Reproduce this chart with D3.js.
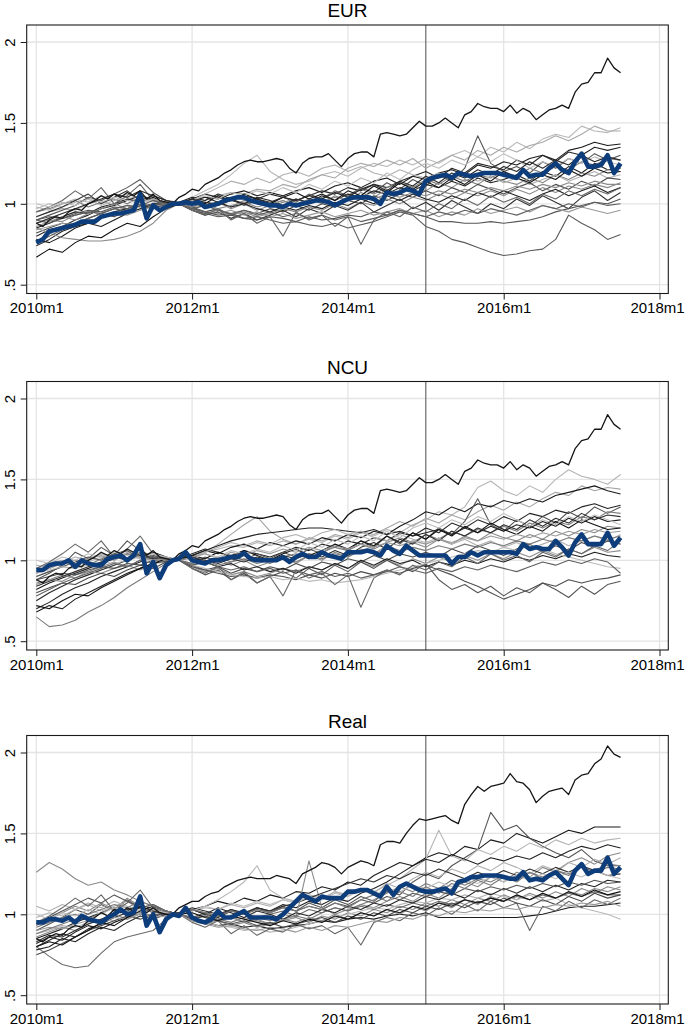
<!DOCTYPE html>
<html><head><meta charset="utf-8">
<script src="https://cdn.jsdelivr.net/npm/d3@7"></script>
<style>html,body{margin:0;padding:0;background:#fff;}svg{display:block;}</style>
</head><body>
<svg id="chart" width="685" height="1027"></svg>
<script>
// ---------------- DATA ----------------
const panelTitles = ["EUR", "NCU", "Real"];
const xTickMonths = [0, 24, 48, 72, 96];           // months since 2010m1
const xTickLabels = ["2010m1", "2012m1", "2014m1", "2016m1", "2018m1"];
const yTickValues = [0.5, 1, 1.5, 2];
const yTickLabels = [".5", "1", "1.5", "2"];
const eventMonth = 60;                              // 2015m1
// monthly series (2010m1 .. 2017m7); country series every second month

const eurTop = [0.88,0.86,0.90,0.92,0.91,0.95,0.97,0.96,1.00,1.02,
1.05,1.03,1.06,1.04,1.07,1.05,1.08,1.03,1.06,1.02,
1.01,1.00,1.04,1.06,1.09,1.08,1.12,1.14,1.16,1.19,
1.21,1.24,1.26,1.27,1.26,1.26,1.27,1.28,1.27,1.22,
1.19,1.25,1.28,1.29,1.29,1.31,1.27,1.23,1.28,1.31,
1.32,1.32,1.29,1.43,1.44,1.43,1.42,1.43,1.47,1.51,
1.48,1.48,1.50,1.53,1.50,1.47,1.55,1.57,1.62,1.60,
1.59,1.59,1.57,1.61,1.56,1.59,1.57,1.52,1.55,1.58,
1.59,1.61,1.59,1.69,1.74,1.75,1.81,1.81,1.90,1.84,1.81];

const eurMean = [0.76,0.78,0.83,0.84,0.85,0.86,0.87,0.89,0.89,0.89,
0.92,0.93,0.94,0.94,0.95,0.96,1.06,0.91,0.99,0.96,
0.98,1.00,1.00,1.01,1.00,1.01,0.98,0.99,1.00,1.02,
1.03,1.04,1.04,1.02,1.01,1.00,0.99,0.99,0.98,1.00,
0.99,1.00,1.01,1.02,1.02,1.01,0.99,1.01,1.03,1.04,
1.04,1.04,1.03,1.00,1.07,1.06,1.07,1.09,1.08,1.06,
1.14,1.16,1.17,1.18,1.16,1.19,1.18,1.17,1.18,1.19,
1.19,1.19,1.18,1.17,1.16,1.21,1.17,1.18,1.18,1.22,
1.25,1.21,1.19,1.26,1.31,1.23,1.23,1.24,1.30,1.19,1.25];

const eurCountries = [
[0.97,1.00,0.98,1.01,1.03,0.99,1.02,1.04,1.01,1.03,1.01,1.00,1.04,1.08,1.12,1.18,1.25,1.30,1.20,1.15,1.12,1.14,1.18,1.20,1.17,1.22,1.25,1.23,1.27,1.24,1.28,1.25,1.30,1.33,1.29,1.35,1.32,1.38,1.34,1.40,1.43,1.41,1.48,1.45,1.44,1.47],
[0.92,0.95,0.97,0.96,1.00,1.02,0.99,1.03,1.05,1.02,1.00,1.01,1.03,1.02,1.05,1.07,1.06,1.09,1.08,1.12,1.10,1.15,1.18,1.16,1.22,1.25,1.23,1.27,1.24,1.28,1.22,1.26,1.30,1.27,1.33,1.30,1.35,1.32,1.36,1.38,1.42,1.39,1.43,1.48,1.45,1.45],
[0.85,0.88,0.92,0.95,0.94,0.98,1.00,1.03,1.01,1.04,1.00,0.99,1.02,1.04,1.03,1.06,1.08,1.05,1.07,1.05,1.08,1.10,1.07,1.11,1.13,1.10,1.14,1.16,1.12,1.17,1.15,1.19,1.21,1.18,1.24,1.22,1.26,1.24,1.28,1.30,1.27,1.33,1.35,1.38,1.36,1.37],
[0.80,0.84,0.86,0.90,0.93,0.97,0.99,1.02,1.05,1.03,1.01,1.00,1.03,1.06,1.04,1.02,1.05,1.03,1.06,1.04,1.02,1.05,1.08,1.06,1.10,1.08,1.12,1.10,1.14,1.17,1.20,1.16,1.22,1.19,1.25,1.23,1.21,1.27,1.24,1.30,1.26,1.32,1.30,1.35,1.33,1.35],
[0.90,0.93,0.96,0.99,1.04,1.02,1.06,1.10,1.15,1.07,1.02,1.01,0.98,1.01,1.00,1.03,0.99,1.02,1.00,1.04,1.01,1.06,1.03,1.08,1.05,1.10,1.07,1.13,1.09,1.15,1.11,1.18,1.14,1.22,1.42,1.25,1.20,1.23,1.19,1.26,1.22,1.28,1.25,1.31,1.27,1.30],
[0.95,0.97,1.00,1.02,0.98,1.01,1.03,1.00,1.04,1.02,0.99,1.00,0.97,0.99,1.01,0.98,1.02,1.00,0.98,1.01,1.03,1.00,1.04,1.07,1.05,1.09,1.06,1.10,1.13,1.10,1.15,1.12,1.17,1.14,1.18,1.16,1.20,1.17,1.22,1.19,1.23,1.21,1.26,1.24,1.28,1.27],
[0.74,0.78,0.83,0.86,0.88,0.92,0.95,0.97,1.00,0.98,1.00,1.01,1.04,1.02,1.06,1.03,1.00,1.04,1.02,0.99,1.03,1.01,1.05,1.02,1.06,1.04,1.08,1.06,1.10,1.08,1.12,1.10,1.14,1.11,1.16,1.13,1.15,1.18,1.14,1.20,1.17,1.23,1.19,1.25,1.21,1.22],
[0.88,0.90,0.89,0.93,0.95,0.94,0.97,0.99,0.96,1.00,0.98,1.00,1.02,0.98,1.01,0.97,1.00,0.96,0.99,1.02,0.98,1.03,1.00,1.05,1.02,1.07,1.04,1.09,1.06,1.11,1.08,1.13,1.10,1.15,1.12,1.17,1.14,1.12,1.16,1.13,1.18,1.15,1.19,1.17,1.21,1.20],
[0.98,0.96,1.00,1.03,1.01,1.05,1.02,1.06,1.03,1.01,0.99,1.00,1.02,1.06,1.10,1.14,1.12,1.16,1.13,1.18,1.20,1.17,1.22,1.24,1.20,1.23,1.19,1.17,1.21,1.18,1.16,1.19,1.15,1.18,1.14,1.17,1.13,1.16,1.12,1.15,1.18,1.14,1.17,1.20,1.16,1.18],
[0.82,0.85,0.88,0.87,0.91,0.94,0.92,0.96,0.99,0.97,1.00,1.00,0.98,0.95,0.97,0.93,0.96,0.94,0.97,0.95,0.99,0.96,1.00,0.98,1.02,1.00,1.05,1.02,1.06,1.04,1.08,1.05,1.10,1.07,1.12,1.09,1.06,1.10,1.13,1.08,1.12,1.09,1.14,1.11,1.16,1.15],
[0.86,0.89,0.92,0.90,0.94,0.97,1.00,0.97,1.01,0.99,1.01,1.00,0.97,0.94,0.96,0.93,0.95,0.92,0.94,0.97,0.95,0.98,0.96,1.00,0.97,1.01,0.99,1.03,1.00,1.04,1.02,1.06,1.03,1.07,1.05,1.08,1.05,1.09,1.06,1.10,1.07,1.11,1.09,1.12,1.10,1.13],
[0.78,0.76,0.80,0.85,0.88,0.86,0.90,0.94,0.97,1.00,1.01,1.00,1.02,1.04,1.01,0.98,1.00,0.97,0.95,0.98,0.96,0.99,0.97,1.01,0.99,1.03,1.00,1.05,1.02,1.06,1.03,1.01,1.05,1.02,1.07,1.04,1.08,1.05,1.02,1.06,1.09,1.05,1.08,1.11,1.07,1.10],
[0.92,0.95,0.98,1.02,1.06,1.00,1.04,1.08,1.02,1.05,1.02,1.00,0.96,0.93,0.95,0.91,0.94,0.90,0.93,0.96,0.92,0.97,0.94,0.99,0.96,1.01,0.95,0.99,1.03,0.97,1.01,0.96,1.02,0.98,0.94,1.00,0.97,1.03,0.99,1.05,1.01,0.97,1.04,1.08,1.02,1.07],
[0.90,0.92,0.91,0.94,0.96,0.95,0.98,0.97,1.00,0.98,0.99,1.00,0.96,0.94,0.92,0.93,0.91,0.90,0.92,0.91,0.89,0.92,0.90,0.91,0.93,0.92,0.95,0.93,0.96,0.94,0.92,0.89,0.89,0.88,0.88,0.89,0.88,0.89,0.90,0.92,0.95,0.97,0.99,1.01,1.00,1.03],
[0.84,0.86,0.88,0.87,0.89,0.92,0.94,0.93,0.96,0.98,1.00,1.00,0.97,0.95,0.94,0.96,0.93,0.95,0.92,0.94,0.91,0.93,0.95,0.92,0.94,0.96,0.93,0.95,0.97,0.94,0.96,0.92,0.95,0.93,0.97,0.94,0.96,0.98,0.95,0.99,0.97,0.95,0.98,0.96,0.94,0.96],
[0.90,0.88,0.91,0.93,0.95,0.94,0.97,0.99,0.98,1.00,0.99,1.00,0.97,0.95,0.93,0.94,0.91,0.92,0.90,0.88,0.89,0.87,0.86,0.88,0.85,0.87,0.89,0.92,0.95,0.93,0.86,0.83,0.78,0.76,0.73,0.70,0.68,0.69,0.71,0.72,0.78,0.93,0.88,0.84,0.78,0.81],
[0.85,0.82,0.79,0.78,0.77,0.77,0.78,0.80,0.83,0.88,0.96,1.00,0.98,1.00,0.97,0.99,1.01,0.98,1.00,1.02,0.99,1.03,1.01,1.04,1.02,1.05,1.03,1.06,1.04,1.07,1.05,1.08,1.06,1.09,1.07,1.10,1.08,1.11,1.09,1.12,1.10,1.13,1.11,1.14,1.12,1.12],
[0.67,0.72,0.70,0.76,0.80,0.79,0.84,0.88,0.86,0.92,0.97,1.00,1.03,1.00,1.05,1.02,1.06,1.03,1.00,1.04,1.07,1.03,1.06,1.02,1.08,1.05,1.11,1.07,1.13,1.09,1.14,1.10,1.16,1.12,1.18,1.14,1.20,1.16,1.13,1.18,1.15,1.21,1.17,1.22,1.19,1.20],
[0.95,0.98,1.02,1.08,1.03,1.10,1.00,1.05,1.12,1.02,1.00,1.00,0.96,0.93,0.97,0.90,0.94,0.88,0.92,0.80,0.95,0.90,0.93,0.86,0.92,0.75,0.90,0.95,0.92,0.98,0.95,1.00,0.97,1.03,0.99,1.05,1.01,1.04,1.00,1.06,1.03,1.08,1.05,1.09,1.06,1.10],
[1.00,0.98,1.01,0.99,1.03,1.01,1.04,1.02,1.00,1.03,1.01,1.00,1.02,1.05,1.03,1.07,1.05,1.08,1.06,1.10,1.07,1.12,1.09,1.14,1.11,1.16,1.13,1.19,1.15,1.21,1.25,1.22,1.27,1.24,1.29,1.26,1.31,1.27,1.22,1.26,1.23,1.28,1.25,1.29,1.26,1.24],
[0.88,0.91,0.94,0.97,1.00,1.03,1.06,1.04,1.08,1.05,1.02,1.00,1.03,1.01,0.99,1.02,1.00,1.03,1.01,1.04,1.02,1.05,1.03,1.07,1.04,1.09,1.12,1.08,1.14,1.11,1.17,1.13,1.19,1.16,1.21,1.18,1.23,1.20,1.26,1.22,1.27,1.24,1.30,1.26,1.29,1.27],
[0.76,0.80,0.84,0.88,0.91,0.94,0.97,0.95,0.99,1.02,1.00,1.00,0.97,0.99,0.96,0.94,0.96,0.93,0.95,0.92,0.94,0.91,0.93,0.90,0.92,0.89,0.91,0.93,0.96,0.94,0.92,0.95,0.93,0.96,0.94,0.97,0.95,0.93,0.96,0.99,0.97,1.00,0.98,1.01,0.99,1.00]
];

const ncuTop = eurTop.slice();  // same country path in both currencies

const ncuMean = [0.94,0.94,0.97,0.98,0.98,1.00,0.96,1.00,0.98,0.97,
0.97,1.01,1.02,1.03,1.00,1.03,1.10,0.92,0.99,0.89,
0.97,1.00,1.01,1.05,1.00,0.99,0.98,1.00,1.00,1.01,
1.02,1.02,1.045,1.01,1.00,1.00,1.00,1.00,1.02,0.99,
1.02,1.04,1.02,1.02,1.05,1.03,1.02,1.01,1.05,1.05,
1.05,1.06,1.05,1.03,1.09,1.06,1.04,1.09,1.06,1.03,
1.03,1.03,1.03,1.03,0.98,1.02,1.02,1.05,1.03,1.05,
1.05,1.05,1.05,1.05,1.04,1.10,1.07,1.08,1.07,1.07,
1.12,1.08,1.03,1.11,1.16,1.10,1.10,1.10,1.17,1.09,1.14];

const ncuCountries = [
[0.90,0.93,0.96,0.95,0.99,1.02,1.00,1.04,1.01,1.03,1.01,1.00,1.03,1.05,1.07,1.09,1.08,1.11,1.09,1.12,1.10,1.13,1.11,1.15,1.13,1.17,1.15,1.19,1.17,1.22,1.25,1.30,1.28,1.33,1.45,1.49,1.43,1.40,1.46,1.42,1.50,1.56,1.52,1.50,1.47,1.53],
[0.95,0.98,1.00,0.97,1.01,1.04,1.02,1.06,1.03,1.05,1.02,1.00,1.02,1.05,1.10,1.16,1.22,1.27,1.18,1.13,1.10,1.14,1.12,1.16,1.14,1.18,1.16,1.20,1.24,1.21,1.26,1.23,1.28,1.25,1.30,1.34,1.31,1.36,1.33,1.38,1.42,1.40,1.46,1.43,1.45,1.44],
[0.82,0.86,0.89,0.92,0.95,0.98,1.01,1.04,1.02,1.05,1.02,1.00,1.03,1.06,1.04,1.08,1.10,1.07,1.11,1.09,1.12,1.10,1.14,1.12,1.16,1.14,1.18,1.16,1.21,1.25,1.30,1.28,1.33,1.30,1.35,1.33,1.37,1.35,1.38,1.36,1.40,1.42,1.44,1.46,1.43,1.41],
[0.75,0.80,0.84,0.88,0.91,0.94,0.97,1.00,1.03,1.01,1.00,1.01,1.04,1.07,1.05,1.03,1.06,1.04,1.02,1.05,1.08,1.06,1.10,1.08,1.12,1.10,1.14,1.12,1.17,1.15,1.20,1.17,1.23,1.20,1.25,1.22,1.27,1.24,1.29,1.27,1.31,1.29,1.33,1.35,1.32,1.34],
[0.88,0.92,0.97,1.05,1.01,1.08,1.03,1.12,1.06,1.02,1.01,1.00,0.98,1.02,0.99,1.03,1.00,1.04,1.01,1.05,1.02,1.07,1.04,1.10,1.06,1.12,1.08,1.15,1.10,1.17,1.13,1.20,1.16,1.24,1.38,1.22,1.18,1.25,1.21,1.27,1.23,1.30,1.26,1.33,1.29,1.33],
[0.92,0.95,0.98,1.00,0.97,1.01,1.04,1.01,1.05,1.02,0.99,1.00,0.97,0.99,1.02,0.99,1.03,1.01,0.98,1.02,1.04,1.01,1.05,1.08,1.06,1.10,1.07,1.11,1.14,1.11,1.16,1.13,1.18,1.15,1.19,1.17,1.21,1.18,1.23,1.20,1.24,1.22,1.27,1.25,1.30,1.29],
[0.70,0.74,0.79,0.83,0.86,0.90,0.93,0.96,0.99,1.02,1.00,1.01,1.03,1.06,1.09,1.12,1.14,1.16,1.17,1.18,1.19,1.20,1.20,1.19,1.18,1.17,1.19,1.16,1.18,1.15,1.17,1.19,1.16,1.20,1.17,1.21,1.18,1.22,1.20,1.24,1.21,1.26,1.23,1.27,1.24,1.25],
[0.85,0.88,0.87,0.91,0.93,0.92,0.95,0.97,0.94,0.98,0.99,1.00,1.02,0.98,1.01,0.97,1.00,0.96,0.99,1.02,0.98,1.03,1.00,1.05,1.02,1.07,1.04,1.09,1.06,1.11,1.08,1.13,1.10,1.15,1.12,1.17,1.14,1.12,1.16,1.13,1.18,1.15,1.19,1.17,1.21,1.20],
[0.97,0.95,0.99,1.02,1.00,1.04,1.01,1.05,1.02,1.00,0.99,1.00,1.02,1.05,1.08,1.11,1.09,1.12,1.10,1.14,1.16,1.13,1.17,1.19,1.16,1.18,1.14,1.12,1.16,1.13,1.11,1.14,1.10,1.13,1.09,1.12,1.08,1.11,1.07,1.10,1.13,1.09,1.12,1.15,1.12,1.16],
[0.80,0.83,0.86,0.85,0.89,0.92,0.90,0.94,0.97,0.95,0.99,1.00,0.97,0.94,0.96,0.92,0.95,0.93,0.96,0.94,0.98,0.95,0.99,0.97,1.01,0.99,1.03,1.00,1.04,1.02,1.05,1.02,1.07,1.04,1.09,1.06,1.03,1.07,1.10,1.05,1.09,1.06,1.11,1.08,1.12,1.10],
[0.86,0.88,0.91,0.89,0.93,0.96,0.99,0.96,1.00,0.98,1.00,1.00,0.96,0.93,0.95,0.91,0.93,0.90,0.92,0.95,0.93,0.96,0.94,0.98,0.95,0.99,0.96,1.00,0.97,1.01,0.98,1.02,0.99,1.03,1.00,1.04,1.01,1.05,1.02,1.06,1.03,1.07,1.04,1.08,1.05,1.06],
[0.68,0.72,0.70,0.76,0.80,0.84,0.88,0.92,0.95,0.98,1.00,1.00,1.02,0.99,0.96,0.98,0.94,0.96,0.93,0.95,0.92,0.96,0.94,0.98,0.95,1.00,0.97,1.01,0.98,1.00,0.96,0.99,0.97,1.00,0.98,1.01,0.99,1.02,1.00,1.03,1.01,1.04,1.02,1.05,1.03,1.02],
[0.90,0.93,0.96,0.99,1.02,1.00,1.04,1.06,1.01,1.03,1.01,1.00,0.95,0.91,0.94,0.88,0.92,0.86,0.90,0.93,0.89,0.95,0.91,0.97,0.93,0.99,0.95,1.00,0.96,0.93,0.98,0.88,0.82,0.85,0.80,0.84,0.78,0.83,0.80,0.86,0.82,0.77,0.84,0.79,0.85,0.87],
[0.88,0.90,0.92,0.91,0.94,0.96,0.95,0.98,0.97,1.00,0.99,1.00,0.96,0.94,0.92,0.90,0.91,0.89,0.91,0.90,0.88,0.91,0.89,0.92,0.90,0.93,0.91,0.94,0.92,0.95,0.97,0.94,0.91,0.87,0.84,0.80,0.76,0.79,0.82,0.86,0.84,0.88,0.86,0.88,0.89,0.91],
[0.92,0.94,0.96,0.95,0.97,0.99,0.98,1.00,1.02,0.99,1.00,1.00,0.97,0.95,0.93,0.91,0.90,0.89,0.90,0.88,0.89,0.87,0.88,0.86,0.87,0.88,0.90,0.92,0.94,0.96,0.98,1.00,1.02,1.04,1.06,1.05,1.08,1.06,1.09,1.07,1.04,1.02,1.00,0.98,0.96,0.95],
[0.65,0.59,0.60,0.63,0.68,0.72,0.77,0.83,0.88,0.93,0.98,1.00,0.98,1.00,0.97,0.99,1.01,0.98,1.00,1.02,0.99,1.03,1.01,1.04,1.02,1.06,1.04,1.07,1.05,1.08,1.06,1.09,1.07,1.10,1.08,1.11,1.09,1.12,1.10,1.13,1.11,1.14,1.12,1.15,1.13,1.15],
[0.72,0.70,0.75,0.79,0.78,0.83,0.87,0.91,0.95,0.98,1.01,1.00,1.03,1.01,1.05,1.02,1.06,1.03,1.00,1.04,1.07,1.03,1.06,1.10,1.07,1.12,1.09,1.15,1.11,1.17,1.13,1.19,1.15,1.21,1.17,1.23,1.19,1.16,1.21,1.18,1.24,1.20,1.25,1.22,1.19,1.20],
[0.95,0.99,1.04,1.10,1.05,1.12,1.02,1.07,1.15,1.04,1.01,1.00,0.95,0.92,0.96,0.88,0.93,0.86,0.90,0.78,0.94,0.89,0.92,0.85,0.91,0.71,0.89,0.94,0.91,0.97,0.94,0.99,0.96,1.02,0.98,1.04,1.00,1.03,0.99,1.05,1.02,1.07,1.04,1.09,1.06,1.12],
[1.00,0.98,1.02,1.00,1.04,1.02,1.05,1.03,1.01,1.04,1.02,1.00,1.01,1.04,1.02,1.06,1.04,1.07,1.05,1.09,1.06,1.11,1.08,1.13,1.10,1.15,1.12,1.18,1.14,1.20,1.23,1.20,1.25,1.22,1.27,1.24,1.29,1.25,1.21,1.25,1.22,1.27,1.24,1.28,1.25,1.22],
[0.84,0.87,0.90,0.93,0.96,0.99,1.02,1.00,1.04,1.01,1.01,1.00,1.02,1.00,0.98,1.01,0.99,1.02,1.00,1.03,1.01,1.04,1.02,1.06,1.03,1.08,1.11,1.07,1.13,1.10,1.16,1.12,1.18,1.15,1.20,1.17,1.22,1.19,1.25,1.21,1.26,1.23,1.29,1.25,1.28,1.27],
[0.78,0.82,0.86,0.89,0.92,0.95,0.98,0.96,1.00,1.02,1.00,1.00,0.97,0.99,0.96,0.94,0.96,0.93,0.95,0.92,0.94,0.91,0.93,0.90,0.92,0.89,0.91,0.93,0.96,0.94,0.92,0.95,0.93,0.96,0.94,0.97,0.95,0.93,0.96,0.99,0.97,1.00,0.98,1.01,0.99,0.92],
[0.93,0.96,0.99,0.97,1.01,1.03,1.00,1.04,1.02,1.00,1.01,1.00,1.02,1.04,1.01,1.05,1.03,1.06,1.04,1.07,1.05,1.08,1.06,1.09,1.07,1.10,1.08,1.11,1.09,1.12,1.10,1.13,1.11,1.14,1.12,1.15,1.13,1.16,1.14,1.17,1.15,1.18,1.16,1.19,1.17,1.18]
];

const realTop = [0.85,0.83,0.86,0.88,0.87,0.91,0.93,0.92,0.96,0.98,
1.01,0.99,1.03,1.01,1.04,1.02,1.05,1.01,1.04,1.01,
1.00,1.00,1.04,1.06,1.08,1.08,1.11,1.13,1.14,1.17,
1.19,1.21,1.22,1.23,1.22,1.22,1.22,1.24,1.23,1.22,
1.19,1.25,1.27,1.29,1.32,1.31,1.29,1.25,1.29,1.31,
1.33,1.32,1.30,1.43,1.45,1.45,1.44,1.50,1.55,1.59,
1.58,1.59,1.60,1.61,1.58,1.56,1.68,1.74,1.79,1.76,
1.79,1.80,1.81,1.87,1.82,1.81,1.77,1.69,1.73,1.76,
1.77,1.78,1.74,1.83,1.86,1.87,1.93,1.96,2.04,1.99,1.97];

const realMean = [0.95,0.95,0.97,0.97,0.96,0.98,0.95,0.99,0.97,0.96,
0.95,0.98,1.00,1.03,1.00,1.01,1.11,0.93,1.00,0.89,
0.97,1.00,0.99,1.04,0.98,0.96,0.95,0.97,1.02,0.98,
0.98,1.00,1.02,0.98,0.98,0.98,0.98,0.97,1.00,1.04,
1.08,1.12,1.10,1.08,1.11,1.10,1.10,1.10,1.14,1.14,
1.15,1.15,1.13,1.11,1.17,1.12,1.17,1.19,1.17,1.15,
1.14,1.14,1.15,1.16,1.13,1.20,1.21,1.23,1.23,1.24,
1.24,1.24,1.23,1.22,1.22,1.26,1.21,1.22,1.21,1.24,
1.26,1.22,1.18,1.27,1.31,1.25,1.27,1.27,1.35,1.25,1.29];

const realCountries = [
[0.85,0.88,0.91,0.95,0.98,1.01,1.04,1.02,1.06,1.03,1.01,1.00,1.03,1.05,1.08,1.06,1.10,1.08,1.12,1.10,1.14,1.13,1.17,1.15,1.20,1.18,1.24,1.28,1.32,1.30,1.35,1.38,1.36,1.42,1.40,1.46,1.44,1.50,1.47,1.44,1.48,1.52,1.50,1.54,1.54,1.54],
[0.90,0.94,0.98,1.03,1.00,1.06,1.02,1.09,1.04,1.01,1.02,1.00,0.98,1.01,0.99,1.03,1.00,1.04,1.01,1.05,1.02,1.07,1.04,1.09,1.06,1.11,1.08,1.14,1.12,1.20,1.25,1.22,1.30,1.35,1.40,1.63,1.52,1.55,1.47,1.42,1.38,1.35,1.40,1.33,1.30,1.30],
[0.98,1.01,0.99,1.03,1.06,1.02,1.05,1.08,1.03,1.06,1.02,1.00,1.02,1.05,1.09,1.14,1.20,1.30,1.15,1.10,1.08,1.12,1.10,1.14,1.12,1.16,1.14,1.18,1.22,1.28,1.34,1.52,1.36,1.33,1.40,1.37,1.42,1.39,1.44,1.41,1.46,1.43,1.47,1.44,1.46,1.47],
[0.80,0.84,0.88,0.86,0.91,0.94,0.98,1.01,1.04,1.02,1.00,1.01,1.03,1.00,0.98,1.02,1.00,1.04,1.02,1.06,1.04,1.08,1.06,1.10,1.08,1.13,1.16,1.20,1.25,1.30,1.34,1.32,1.37,1.34,1.31,1.35,1.33,1.36,1.34,1.38,1.35,1.39,1.42,1.40,1.43,1.41],
[0.93,0.97,1.01,1.05,1.02,1.07,1.03,1.10,1.05,1.02,1.01,1.00,0.97,1.00,0.96,0.99,0.95,0.98,0.96,1.00,0.98,1.33,1.04,1.00,1.03,1.06,1.04,1.08,1.11,1.08,1.13,1.10,1.16,1.20,1.17,1.23,1.20,1.26,1.23,1.29,1.26,1.32,1.35,1.31,1.36,1.38],
[0.92,0.95,0.98,1.00,0.97,1.01,1.04,1.01,1.05,1.02,0.99,1.00,0.96,0.94,0.97,0.95,0.98,0.96,0.94,0.97,0.99,0.97,1.01,1.04,1.02,1.06,1.09,1.13,1.17,1.14,1.19,1.16,1.21,1.18,1.22,1.20,1.24,1.21,1.26,1.23,1.27,1.25,1.29,1.27,1.31,1.30],
[1.05,1.02,1.06,1.03,1.07,1.04,1.08,1.05,1.02,1.04,1.02,1.00,1.02,1.04,1.03,1.06,1.04,1.07,1.05,1.09,1.07,1.11,1.09,1.14,1.11,1.16,1.13,1.19,1.16,1.22,1.26,1.23,1.28,1.25,1.30,1.27,1.32,1.29,1.25,1.30,1.27,1.32,1.29,1.34,1.31,1.35],
[1.26,1.32,1.28,1.22,1.18,1.20,1.15,1.12,1.08,1.05,1.02,1.00,0.97,0.99,0.96,0.98,0.95,0.97,0.94,0.96,0.98,0.95,0.99,0.97,1.01,0.99,1.03,1.01,1.05,1.03,1.07,1.05,1.09,1.06,1.10,1.08,1.12,1.09,1.13,1.10,1.14,1.11,1.16,1.13,1.17,1.15],
[0.80,0.74,0.69,0.67,0.68,0.76,0.83,0.86,0.88,0.90,0.97,1.00,0.98,1.00,0.97,0.99,1.01,0.98,1.00,1.02,0.99,1.03,1.01,1.04,1.02,1.05,1.03,1.06,1.04,1.07,1.05,1.08,1.06,1.09,1.07,1.10,1.08,1.11,1.09,1.12,1.10,1.13,1.11,1.14,1.12,1.12],
[0.82,0.86,0.84,0.89,0.93,0.91,0.95,0.98,1.01,0.99,1.00,1.00,0.97,0.95,0.93,0.94,0.92,0.93,0.91,0.92,0.93,0.94,0.96,0.95,0.97,0.98,0.97,0.99,1.00,0.99,1.01,0.98,0.98,0.98,0.98,0.98,0.98,0.98,0.99,1.00,1.02,1.04,1.05,1.05,1.06,1.07],
[0.88,0.90,0.93,0.92,0.95,0.97,0.96,0.99,1.01,0.98,1.00,1.00,0.97,0.95,0.93,0.92,0.90,0.91,0.89,0.90,0.92,0.94,0.96,0.98,1.00,1.02,1.04,1.03,1.06,1.08,1.07,1.10,1.09,1.12,1.10,1.13,1.11,1.09,1.12,1.08,1.10,1.06,1.04,1.02,1.00,0.97],
[0.95,0.99,1.04,1.10,1.05,1.12,1.02,1.07,1.15,1.04,1.01,1.00,0.95,0.92,0.96,0.88,0.93,0.87,0.91,0.89,0.94,0.91,0.93,0.88,0.92,0.81,0.95,0.98,0.96,1.01,0.99,1.04,1.00,1.06,1.02,1.08,1.04,1.07,0.90,1.05,1.02,1.08,1.04,1.09,1.06,1.10],
[0.78,0.80,0.85,0.83,0.88,0.92,0.90,0.95,0.99,0.97,1.00,1.01,1.03,1.00,1.04,1.01,0.98,1.02,1.00,0.97,1.01,0.99,1.03,1.01,1.05,1.03,1.07,1.05,1.09,1.07,1.11,1.09,1.13,1.10,1.15,1.12,1.16,1.13,1.17,1.14,1.18,1.15,1.19,1.17,1.21,1.20],
[0.86,0.89,0.92,0.90,0.94,0.97,1.00,0.97,1.01,0.99,1.01,1.00,0.97,0.94,0.96,0.93,0.95,0.92,0.94,0.97,0.95,0.98,0.96,1.00,0.97,1.01,0.99,1.03,1.00,1.05,1.02,1.07,1.04,1.09,1.06,1.11,1.08,1.12,1.09,1.13,1.10,1.14,1.12,1.16,1.14,1.17],
[0.75,0.78,0.82,0.86,0.90,0.93,0.96,0.99,0.97,1.00,1.00,1.00,0.97,0.99,0.96,0.94,0.96,0.93,0.95,0.92,0.94,0.96,0.98,0.95,0.99,0.97,1.01,0.99,1.03,1.01,1.05,1.03,1.07,1.04,1.08,1.06,1.10,1.07,1.05,1.09,1.06,1.11,1.08,1.13,1.10,1.12],
[0.83,0.87,0.86,0.90,0.94,0.97,1.00,1.03,1.05,1.02,1.00,1.01,1.04,1.02,1.00,1.03,1.01,1.04,1.02,1.05,1.07,1.10,1.13,1.16,1.19,1.22,1.20,1.24,1.22,1.26,1.24,1.28,1.25,1.22,1.26,1.23,1.27,1.24,1.28,1.25,1.29,1.26,1.30,1.27,1.24,1.25],
[1.00,0.97,1.01,0.99,1.03,1.00,1.04,1.02,1.00,1.03,1.01,1.00,1.02,1.05,1.03,1.07,1.05,1.08,1.06,1.09,1.07,1.11,1.09,1.13,1.11,1.15,1.12,1.16,1.14,1.18,1.16,1.20,1.17,1.21,1.19,1.23,1.20,1.24,1.21,1.25,1.22,1.26,1.23,1.27,1.24,1.22],
[0.90,0.92,0.91,0.94,0.96,0.95,0.98,0.97,1.00,0.98,0.99,1.00,0.96,0.94,0.92,0.93,0.91,0.90,0.92,0.91,0.89,0.92,0.90,0.93,0.92,0.94,0.96,0.95,0.98,0.97,1.00,0.99,1.02,1.01,1.03,1.02,1.04,1.03,1.05,1.04,1.06,1.05,1.07,1.06,1.08,1.05],
[0.80,0.83,0.81,0.86,0.90,0.95,0.93,0.98,1.02,1.05,1.02,1.00,1.01,0.98,0.96,0.99,0.97,0.95,0.93,0.96,0.94,0.97,0.95,0.99,0.97,1.01,0.99,1.03,1.01,1.05,1.03,1.07,1.05,1.09,1.07,1.10,1.08,1.12,1.09,1.13,1.10,1.14,1.11,1.15,1.12,1.14],
[0.94,0.98,1.02,1.06,1.10,1.07,1.12,1.08,1.04,1.06,1.02,1.00,1.03,1.01,0.99,1.02,1.00,1.03,1.01,1.04,1.02,1.05,1.03,1.07,1.05,1.09,1.07,1.11,1.09,1.13,1.11,1.14,1.12,1.16,1.14,1.17,1.15,1.18,1.16,1.19,1.17,1.20,1.18,1.21,1.19,1.20],
[0.88,0.91,0.94,0.97,1.00,1.03,1.06,1.04,1.08,1.05,1.02,1.00,1.03,1.01,0.99,1.02,1.00,1.03,1.01,1.04,1.02,1.05,1.03,1.07,1.04,1.09,1.12,1.08,1.14,1.11,1.17,1.13,1.19,1.16,1.21,1.18,1.23,1.20,1.26,1.22,1.27,1.24,1.30,1.26,1.29,1.28]
];

// ---------------- STYLE ----------------
const eurShade = ["#b8b8b8","#a8a8a8","#1a1a1a","#262626","#555","#7a7a7a","#222","#888","#b0b0b0","#4a4a4a","#8c8c8c","#1e1e1e","#333","#555","#999","#5a5a5a","#8a8a8a","#111","#666","#bdbdbd","#2a2a2a","#606060"];
const ncuShade = ["#b5b5b5","#a5a5a5","#1a1a1a","#262626","#555","#7d7d7d","#222","#8a8a8a","#b0b0b0","#4a4a4a","#8c8c8c","#1e1e1e","#555","#4d4d4d","#b8b8b8","#7a7a7a","#111","#666","#bdbdbd","#2f2f2f","#606060","#9a9a9a"];
const realShade = ["#1a1a1a","#555","#b5b5b5","#222","#8a8a8a","#7d7d7d","#b0b0b0","#8a8a8a","#6a6a6a","#1e1e1e","#b8b8b8","#666","#262626","#8c8c8c","#4a4a4a","#2f2f2f","#bdbdbd","#999","#111","#555","#7a7a7a"];

const FONT = "'Liberation Sans', Arial, Helvetica, sans-serif";
const boxLeft = 26.7, boxRight = 668.3, boxH = 268.5;
const x = d3.scaleLinear().domain([0, 96]).range([36.3, 659.5]);

const panels = [
  {title: panelTitles[0], top: 25,    countries: eurCountries,  shades: eurShade,  topLine: eurTop,  mean: eurMean},
  {title: panelTitles[1], top: 381.5, countries: ncuCountries,  shades: ncuShade,  topLine: ncuTop,  mean: ncuMean},
  {title: panelTitles[2], top: 735.5, countries: realCountries, shades: realShade, topLine: realTop, mean: realMean}
];

const svg = d3.select("#chart");
svg.append("rect").attr("width", 685).attr("height", 1027).attr("fill", "#fff");

panels.forEach(p => {
  const g = svg.append("g");
  const top = p.top, bottom = top + boxH;
  const y = d3.scaleLinear().domain([0.5, 2]).range([top + 259.7, top + 17]);

  // title
  g.append("text").attr("x", (boxLeft + boxRight) / 2).attr("y", top - 8)
    .attr("text-anchor", "middle").attr("font-family", FONT).attr("font-size", 19)
    .attr("fill", "#000").text(p.title);

  // grid
  g.selectAll(".gy").data(yTickValues).enter().append("line")
    .attr("x1", boxLeft).attr("x2", boxRight).attr("y1", d => y(d)).attr("y2", d => y(d))
    .attr("stroke", "#e4e4e4").attr("stroke-width", 1.3);
  g.selectAll(".gx").data(xTickMonths).enter().append("line")
    .attr("x1", d => x(d)).attr("x2", d => x(d)).attr("y1", top).attr("y2", bottom)
    .attr("stroke", "#e4e4e4").attr("stroke-width", 1.3);

  // event line
  g.append("line").attr("x1", x(eventMonth)).attr("x2", x(eventMonth))
    .attr("y1", top).attr("y2", bottom).attr("stroke", "#6a6a6a").attr("stroke-width", 1.2);

  // country lines (bimonthly)
  const lineBi = d3.line().x((d, i) => x(2 * i)).y(d => y(d));
  p.countries.forEach((s, k) => {
    g.append("path").attr("d", lineBi(s)).attr("fill", "none")
      .attr("stroke", p.shades[k % p.shades.length]).attr("stroke-width", 1.1)
      .attr("stroke-linejoin", "round");
  });

  const lineMo = d3.line().x((d, i) => x(i)).y(d => y(d));
  g.append("path").attr("d", lineMo(p.topLine)).attr("fill", "none")
    .attr("stroke", "#151515").attr("stroke-width", 1.3).attr("stroke-linejoin", "round");
  g.append("path").attr("d", lineMo(p.mean)).attr("fill", "none")
    .attr("stroke", "#0e3d7c").attr("stroke-width", 4.6).attr("stroke-linejoin", "round");

  // box
  g.append("rect").attr("x", boxLeft).attr("y", top).attr("width", boxRight - boxLeft)
    .attr("height", boxH).attr("fill", "none").attr("stroke", "#1a1a1a").attr("stroke-width", 1.1);

  // y axis
  const ya = g.append("g").attr("transform", `translate(${boxLeft},0)`)
    .call(d3.axisLeft(y).tickValues(yTickValues).tickFormat((d, i) => yTickLabels[i]).tickSize(6).tickSizeOuter(0));
  ya.select(".domain").remove();
  ya.selectAll(".tick line").attr("stroke", "#1a1a1a");
  ya.selectAll(".tick text").attr("x", 0).attr("y", 0).attr("dy", 0)
    .attr("text-anchor", "middle").attr("transform", "translate(-11.5,0) rotate(-90)")
    .attr("font-family", FONT).attr("font-size", 15).attr("fill", "#000");

  // x axis
  const xa = g.append("g").attr("transform", `translate(0,${bottom})`)
    .call(d3.axisBottom(x).tickValues(xTickMonths).tickFormat((d, i) => xTickLabels[i]).tickSize(6).tickSizeOuter(0));
  xa.select(".domain").remove();
  xa.selectAll(".tick line").attr("stroke", "#1a1a1a");
  xa.selectAll(".tick text").attr("y", 9).attr("font-family", FONT).attr("font-size", 15).attr("fill", "#000")
    .attr("dx", (d, i) => i === xTickMonths.length - 1 ? -2.5 : 0);
});
</script>
</body></html>
